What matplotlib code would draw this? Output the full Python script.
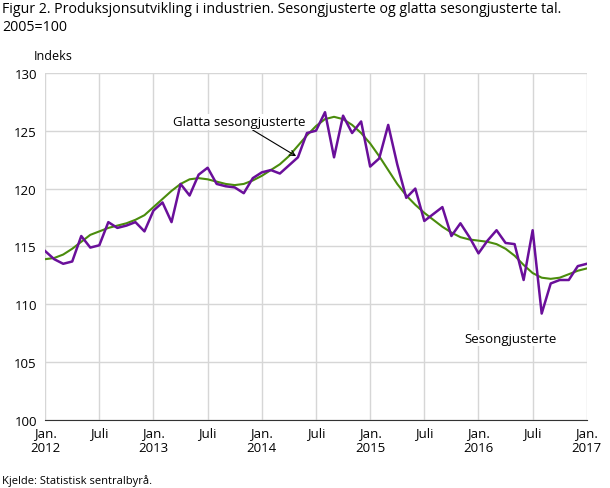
import matplotlib
matplotlib.use("Agg")
import matplotlib.pyplot as plt
import numpy as np

plt.rcParams['font.family'] = ['Open Sans', 'DejaVu Sans']

sesong = [114.6,113.9,113.5,113.7,115.9,114.9,115.1,117.1,116.6,116.8,117.1,116.3,
          118.1,118.8,117.1,120.4,119.4,121.2,121.8,120.4,120.2,120.1,119.6,120.9,
          121.4,121.6,121.3,122.0,122.7,124.8,125.0,126.6,122.7,126.3,124.8,125.8,
          121.9,122.6,125.5,122.1,119.2,120.0,117.2,117.8,118.4,115.9,117.0,115.8,
          114.4,115.5,116.4,115.3,115.2,112.1,116.4,109.2,111.8,112.1,112.1,113.3,
          113.5]
glatta = [113.9,114.0,114.3,114.8,115.4,116.0,116.3,116.6,116.8,117.0,117.3,117.7,
          118.4,119.1,119.8,120.4,120.8,120.9,120.8,120.6,120.4,120.3,120.4,120.7,
          121.1,121.6,122.1,122.8,123.7,124.6,125.4,126.0,126.2,126.0,125.5,124.8,
          123.9,122.8,121.6,120.4,119.4,118.6,117.9,117.3,116.7,116.2,115.8,115.6,
          115.5,115.4,115.2,114.8,114.2,113.4,112.7,112.3,112.2,112.3,112.6,112.9,
          113.1]
tick_labels = ["Jan.\n2012","Juli","Jan.\n2013","Juli","Jan.\n2014","Juli","Jan.\n2015",
               "Juli","Jan.\n2016","Juli","Jan.\n2017"]

fig = plt.figure(figsize=(6.10,4.89), dpi=100)
ax = fig.add_axes([0.074, 0.139, 0.888, 0.71])
x = np.arange(len(sesong))
ax.plot(x, glatta, color="#4a8c0c", lw=1.5, zorder=3)
ax.plot(x, sesong, color="#6a0f9a", lw=1.8, zorder=4)
ax.set_xlim(0, 60)
ax.set_ylim(100, 130)
ax.set_yticks(range(100, 131, 5))
ax.set_xticks(range(0, 61, 6))
ax.set_xticklabels(tick_labels)
ax.grid(True, color="#d6d6d6", lw=1)
ax.set_axisbelow(True)
for s in ["top","right","left"]:
    ax.spines[s].set_visible(False)
ax.spines["bottom"].set_color("#333333")
ax.tick_params(axis="y", length=0, labelsize=9.5, pad=6)
ax.tick_params(axis="x", length=0, labelsize=9.5, pad=4)
ax.annotate("Glatta sesongjusterte", xy=(27.8, 122.8), xytext=(21.5, 125.2),
            ha="center", va="bottom", fontsize=9.5,
            arrowprops=dict(arrowstyle="->", color="black", lw=0.8,
                            shrinkA=0, shrinkB=0),
            bbox=dict(fc="white", ec="none", pad=1))
ax.text(51.5, 106.5, "Sesongjusterte", ha="center", va="bottom", fontsize=9.5,
        bbox=dict(fc="white", ec="none", pad=1))
fig.text(0.003, 0.995, "Figur 2. Produksjonsutvikling i industrien. Sesongjusterte og glatta sesongjusterte tal.\n2005=100",
         ha="left", va="top", fontsize=10.2, linespacing=1.2)
fig.text(0.055, 0.872, "Indeks", fontsize=9, ha="left", va="bottom")
fig.text(0.003, 0.005, "Kjelde: Statistisk sentralbyrå.", fontsize=8, ha="left", va="bottom")
fig.savefig("out.png", dpi=100)
